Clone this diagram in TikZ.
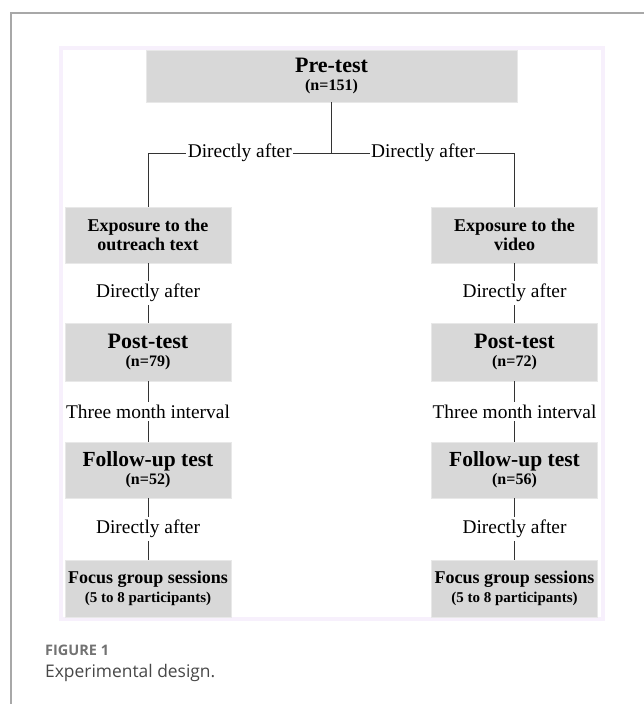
\documentclass[tikz,border=0pt]{standalone}
\usepackage{fontspec}
\setmainfont{Liberation Serif}
\newfontfamily\capfont{Open Sans}
\usetikzlibrary{positioning}

\definecolor{boxgray}{HTML}{D8D8D8}
\definecolor{framelav}{HTML}{F7F0FC}
\definecolor{rulegray}{HTML}{A8A8A8}
\definecolor{capgray}{HTML}{727272}

\begin{document}
\begin{tikzpicture}[x = 1pt, y = -1pt,
  stage/.style = {fill = boxgray, draw = boxgray!60!white, minimum width = 166pt, minimum height = 56pt, align = center, inner sep = 0pt, font = \bfseries\fontsize{18}{19}\selectfont},
  gap/.style = {fill = white, inner xsep = 1.5pt, inner ysep = 3pt, font = \fontsize{19.4}{22}\selectfont},
  link/.style = {draw = black!80, line width = 0.9pt}]

\useasboundingbox (0, 0) rectangle (643, 704);

% page frame and figure panel
\draw[rulegray, line width = 1.5pt] (650, 13) -- (11, 13) -- (11, 710);
\draw[framelav, line width = 4pt, fill = white] (61, 48) rectangle (603, 619);

% stages
\node[stage, minimum width = 371pt, minimum height = 52pt] (pretest) at (331.5, 76) {{\fontsize{22}{22}\selectfont Pre-test}\\[-1pt]{\fontsize{16}{17}\selectfont (n=151)}};

\node[stage] (exptext) at (148, 235) {Exposure to the\\outreach text};
\node[stage] (expvideo) at (514.5, 235) {Exposure to the\\video};

\node[stage, minimum height = 58pt] (posttext) at (148, 352) {{\fontsize{22}{22}\selectfont Post-test}\\[-1pt]{\fontsize{16}{17}\selectfont (n=79)}};
\node[stage, minimum height = 58pt] (postvideo) at (514.5, 352) {{\fontsize{22}{22}\selectfont Post-test}\\[-1pt]{\fontsize{16}{17}\selectfont (n=72)}};

\node[stage] (followtext) at (148, 470) {{\fontsize{21.5}{22}\selectfont Follow-up test}\\[-1pt]{\fontsize{16}{17}\selectfont (n=52)}};
\node[stage] (followvideo) at (514.5, 470) {{\fontsize{21.5}{22}\selectfont Follow-up test}\\[-1pt]{\fontsize{16}{17}\selectfont (n=56)}};

\node[stage, minimum height = 57pt] (focustext) at (148, 588.5) {Focus group sessions\\{\fontsize{15}{16}\selectfont (5 to 8 participants)}};
\node[stage, minimum height = 57pt] (focusvideo) at (514.5, 588.5) {Focus group sessions\\{\fontsize{15}{16}\selectfont (5 to 8 participants)}};

% connectors
\coordinate (split) at (331.5, 153);
\draw[link] (pretest) -- (split);
\draw[link] (split) -| node[gap, pos = 0.25] {Directly after} (exptext);
\draw[link] (split) -| node[gap, pos = 0.25] {Directly after} (expvideo);

\draw[link] (exptext) -- node[gap] {Directly after} (posttext);
\draw[link] (expvideo) -- node[gap] {Directly after} (postvideo);

\draw[link] (posttext) -- node[gap] {Three month interval} (followtext);
\draw[link] (postvideo) -- node[gap] {Three month interval} (followvideo);

\draw[link] (followtext) -- node[gap] {Directly after} (focustext);
\draw[link] (followvideo) -- node[gap] {Directly after} (focusvideo);

% caption
\node[anchor = west, inner sep = 0pt, text = capgray, font = \capfont\bfseries\fontsize{14.5}{16}\selectfont] (figlabel) at (45, 650) {FIGURE 1};
\node[anchor = west, inner sep = 0pt, text = black!72, font = \capfont\fontsize{17.4}{19}\selectfont] (figcaption) at (45, 673) {Experimental design.};

\end{tikzpicture}
\end{document}
